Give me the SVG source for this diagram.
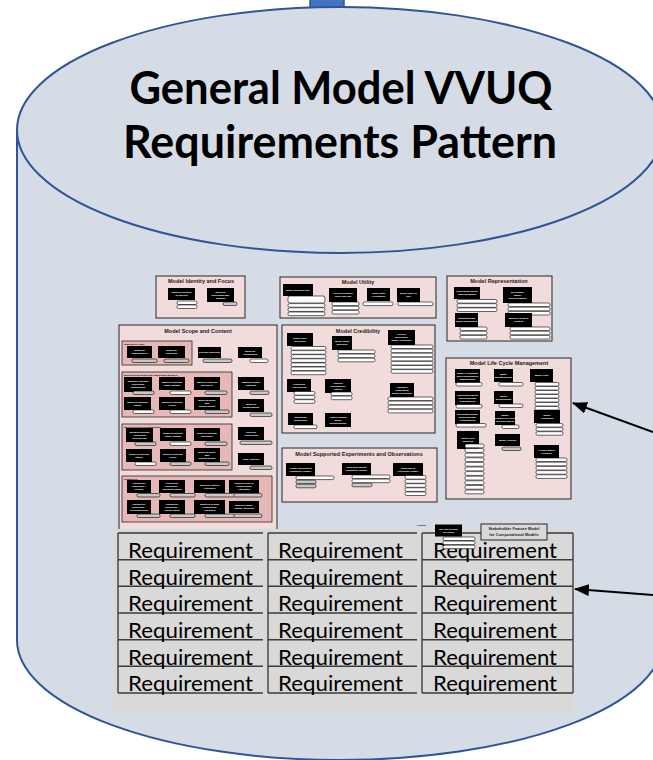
<svg xmlns="http://www.w3.org/2000/svg" width="653" height="760" viewBox="0 0 653 760">
<defs>
<style>
.cyl{fill:#D6DCE5;stroke:#2F5597;stroke-width:2}
.pn{fill:#F2DCDB;stroke:#262626;stroke-width:1}
.sp{fill:#E6B9B8;stroke:#262626;stroke-width:0.8}
.bb{fill:#000}
.pl{fill:#fff;stroke:#000;stroke-width:0.6}
.pg{fill:#C8C8C8;stroke:#000;stroke-width:0.6}
.pt{font-family:"Liberation Sans",Arial,sans-serif;font-weight:bold;font-size:5.5px;text-anchor:middle;fill:#1a1a1a}
.bt{font-family:"Liberation Sans",Arial,sans-serif;font-weight:bold;font-size:2.5px;text-anchor:middle;fill:#fff}
.st{font-family:"Liberation Sans",Arial,sans-serif;font-weight:bold;font-size:2.4px;fill:#000}
.tl{font-family:Lato,"Liberation Sans",sans-serif;font-weight:bold;font-size:45px;text-anchor:middle;fill:#000}
.rq{font-family:Lato,"Liberation Sans",sans-serif;font-size:21px;fill:#000}
.tb{fill:none;stroke:#000;stroke-width:1}
.tr{fill:none;stroke:#3a3a3a;stroke-width:1.5}
.ar{fill:none;stroke:#000;stroke-width:2}
.lg{font-family:"Liberation Sans",Arial,sans-serif;font-weight:bold;font-size:4px;text-anchor:middle;fill:#222}
</style>
<marker id="ah" viewBox="0 0 15 12" refX="14" refY="6" markerWidth="15" markerHeight="12" markerUnits="userSpaceOnUse" orient="auto">
<path d="M0,0 L15,6 L0,12 Z" fill="#000"/>
</marker>
</defs>
<rect x="0" y="0" width="653" height="760" fill="#fff"/>

<g id="cylinder">
<rect x="310" y="-2" width="34" height="14" fill="#4472C4" stroke="#2F5597" stroke-width="1.5"/>
<path class="cyl" d="M17,130 L17,640 A323,120 0 0 0 663,640 L663,130 Z"/>
<ellipse class="cyl" cx="340" cy="130" rx="323" ry="123"/>
<text class="tl" x="341" y="104" textLength="423" lengthAdjust="spacingAndGlyphs">General Model VVUQ</text>
<text class="tl" x="340" y="158" textLength="434" lengthAdjust="spacingAndGlyphs">Requirements Pattern</text>
</g>

<g id="identity">
<rect class="pn" x="156" y="276" width="89" height="42"/>
<text class="pt" x="201" y="283">Model Identity and Focus</text>
<rect class="bb" x="168" y="288" width="27" height="12"/>
<text class="bt" x="181.5" y="293.4">Modeled System<tspan x="181.5" dy="3">of Interest</tspan></text>
<rect class="pl" x="177" y="301" width="20" height="3.5" rx="1.5"/>
<rect class="pl" x="177" y="305" width="20" height="3.5" rx="1.5"/>
<rect class="bb" x="207" y="288" width="27" height="14"/>
<text class="bt" x="220.5" y="292.9">Modeled<tspan x="220.5" dy="3">Environmental</tspan><tspan x="220.5" dy="3">Domain</tspan></text>
<rect class="pg" x="223" y="302" width="14" height="3.5" rx="1.5"/>
</g>

<g id="utility">
<rect class="pn" x="280" y="277" width="156" height="41"/>
<text class="pt" x="358" y="283.5">Model Utility</text>
<rect class="bb" x="283" y="284" width="30" height="12"/>
<text class="bt" x="298" y="290.9">Model Intended Use</text>
<rect class="pl" x="288" y="296" width="37" height="7" rx="2"/>
<rect class="pl" x="288" y="303.6" width="37" height="3.6" rx="1.5"/>
<rect class="pl" x="288" y="307.8" width="37" height="3.6" rx="1.5"/>
<rect class="pl" x="288" y="312" width="37" height="3.6" rx="1.5"/>
<rect class="bb" x="329" y="288" width="28" height="14"/>
<text class="bt" x="343" y="294.4">Perceived Model<tspan x="343" dy="3">Value and Use</tspan></text>
<rect class="pl" x="332" y="302" width="27" height="3.6" rx="1.5"/>
<rect class="pl" x="332" y="306.2" width="27" height="3.6" rx="1.5"/>
<rect class="pl" x="332" y="310.4" width="27" height="3.6" rx="1.5"/>
<rect class="bb" x="367" y="288" width="23" height="13"/>
<text class="bt" x="378.5" y="293.9">Third Party<tspan x="378.5" dy="3">Acceptance</tspan></text>
<rect class="pl" x="363" y="302" width="30" height="3.6" rx="1.5"/>
<rect class="bb" x="397" y="288" width="23" height="14"/>
<text class="bt" x="408.5" y="294.4">Model Ease of<tspan x="408.5" dy="3">Use</tspan></text>
<rect class="pl" x="398" y="302" width="35" height="3.6" rx="1.5"/>
</g>

<g id="representation">
<rect class="pn" x="447" y="276" width="105" height="65"/>
<text class="pt" x="499" y="283">Model Representation</text>
<rect class="bb" x="454" y="287" width="26" height="12"/>
<text class="bt" x="467" y="292.4">Conceptual Model<tspan x="467" dy="3">Representation</tspan></text>
<rect class="pl" x="457" y="299.5" width="40" height="3.6" rx="1.5"/>
<rect class="pl" x="457" y="303.7" width="40" height="3.6" rx="1.5"/>
<rect class="pl" x="457" y="307.9" width="40" height="3.6" rx="1.5"/>
<rect class="bb" x="503" y="287" width="29" height="16"/>
<text class="bt" x="517.5" y="292.9">Executable<tspan x="517.5" dy="3">Model</tspan><tspan x="517.5" dy="3">Representation</tspan></text>
<rect class="pl" x="508" y="303" width="42" height="3.6" rx="1.5"/>
<rect class="pl" x="508" y="307.2" width="42" height="3.6" rx="1.5"/>
<rect class="pl" x="508" y="311.4" width="42" height="3.6" rx="1.5"/>
<rect class="bb" x="455" y="313" width="23" height="14"/>
<text class="bt" x="466.5" y="319.4">Computational<tspan x="466.5" dy="3">Model Ensembles</tspan></text>
<rect class="pl" x="460" y="327" width="27" height="3.6" rx="1.5"/>
<rect class="pl" x="460" y="331.2" width="27" height="3.6" rx="1.5"/>
<rect class="pl" x="460" y="335.4" width="27" height="3.6" rx="1.5"/>
<rect class="bb" x="505" y="313" width="27" height="14"/>
<text class="bt" x="518.5" y="319.4">Modeled System<tspan x="518.5" dy="3">Context</tspan></text>
<rect class="pl" x="510" y="327" width="40" height="3.6" rx="1.5"/>
<rect class="pl" x="510" y="331.2" width="40" height="3.6" rx="1.5"/>
<rect class="pl" x="510" y="335.4" width="40" height="3.6" rx="1.5"/>
</g>

<g id="scope">
<rect class="pn" x="119" y="325" width="158" height="206"/>
<text class="pt" x="198" y="333">Model Scope and Content</text>
<rect class="sp" x="122" y="341" width="70" height="24"/>
<text class="st" x="124" y="344.5">Stakeholder Value</text>
<rect class="bb" x="127" y="346" width="25" height="12"/>
<text class="bt" x="139.5" y="351.4">Modeled<tspan x="139.5" dy="3">Stakeholders</tspan></text>
<rect class="pg" x="132" y="359" width="25" height="3.5" rx="1.5"/>
<rect class="bb" x="158" y="346" width="27" height="12"/>
<text class="bt" x="171.5" y="351.4">Modeled<tspan x="171.5" dy="3">Concerns</tspan></text>
<rect class="pg" x="164" y="359" width="25" height="3.5" rx="1.5"/>
<rect class="bb" x="198" y="347" width="23" height="11"/>
<text class="bt" x="209.5" y="353.4">Driving Concerns</text>
<rect class="pg" x="203" y="359" width="29" height="3.5" rx="1.5"/>
<rect class="bb" x="238" y="347" width="24" height="11"/>
<text class="bt" x="250" y="351.9">Modeled<tspan x="250" dy="3">Phenomena</tspan></text>
<rect class="pl" x="250" y="359" width="18" height="3.5" rx="1.5"/>

<rect class="sp" x="122" y="372" width="110" height="45"/>
<text class="st" x="124" y="375.5">Modeled System External (Black Box) Behavior</text>
<rect class="bb" x="124" y="377" width="28" height="15"/>
<text class="bt" x="138" y="382.4">Modeled External<tspan x="138" dy="3">Functional</tspan><tspan x="138" dy="3">Interactions</tspan></text>
<rect class="pg" x="133" y="391" width="21" height="3.5" rx="1.5"/>
<rect class="bb" x="159" y="377" width="26" height="13"/>
<text class="bt" x="172" y="382.9">Modeled External<tspan x="172" dy="3">Input Outputs</tspan></text>
<rect class="pl" x="170" y="391" width="21" height="3.5" rx="1.5"/>
<rect class="bb" x="194" y="377" width="26" height="13"/>
<text class="bt" x="207" y="382.9">Modeled External<tspan x="207" dy="3">Interfaces</tspan></text>
<rect class="pg" x="205" y="391" width="22" height="3.5" rx="1.5"/>
<rect class="bb" x="124" y="397" width="27" height="13"/>
<text class="bt" x="137.5" y="402.9">Modeled External<tspan x="137.5" dy="3">States</tspan></text>
<rect class="pl" x="133" y="410" width="21" height="3.5" rx="1.5"/>
<rect class="bb" x="159" y="397" width="26" height="13"/>
<text class="bt" x="172" y="402.9">Modeled External<tspan x="172" dy="3">Actors</tspan></text>
<rect class="pl" x="170" y="410" width="21" height="3.5" rx="1.5"/>
<rect class="bb" x="194" y="397" width="26" height="13"/>
<text class="bt" x="207" y="401.4">Modeled Black<tspan x="207" dy="3">Box</tspan><tspan x="207" dy="3">Requirements</tspan></text>
<rect class="pg" x="205" y="410" width="24" height="3.5" rx="1.5"/>
<rect class="bb" x="238" y="377" width="26" height="13"/>
<text class="bt" x="251" y="382.9">Managed Model<tspan x="251" dy="3">Datasets</tspan></text>
<rect class="pg" x="250" y="391" width="19" height="3.5" rx="1.5"/>
<rect class="bb" x="238" y="399" width="26" height="13"/>
<text class="bt" x="251" y="404.9">Modeled<tspan x="251" dy="3">Relationships</tspan></text>
<rect class="pg" x="250" y="413" width="22" height="3.5" rx="1.5"/>

<rect class="sp" x="122" y="424" width="110" height="46"/>
<text class="st" x="124" y="427.5">Modeled System Decomposition</text>
<rect class="bb" x="126" y="428" width="27" height="14"/>
<text class="bt" x="139.5" y="432.9">Modeled Internal<tspan x="139.5" dy="3">Functional</tspan><tspan x="139.5" dy="3">Interactions</tspan></text>
<rect class="pg" x="135" y="442" width="21" height="3.5" rx="1.5"/>
<rect class="bb" x="160" y="428" width="26" height="13"/>
<text class="bt" x="173" y="433.9">Modeled Internal<tspan x="173" dy="3">Input Outputs</tspan></text>
<rect class="pl" x="170" y="442" width="21" height="3.5" rx="1.5"/>
<rect class="bb" x="194" y="428" width="26" height="13"/>
<text class="bt" x="207" y="433.9">Modeled Internal<tspan x="207" dy="3">Interfaces</tspan></text>
<rect class="pg" x="205" y="442" width="22" height="3.5" rx="1.5"/>
<rect class="bb" x="126" y="449" width="26" height="13"/>
<text class="bt" x="139" y="454.9">Modeled Internal<tspan x="139" dy="3">States</tspan></text>
<rect class="pl" x="135" y="462" width="21" height="3.5" rx="1.5"/>
<rect class="bb" x="160" y="449" width="26" height="13"/>
<text class="bt" x="173" y="454.9">Modeled Internal<tspan x="173" dy="3">Roles</tspan></text>
<rect class="pg" x="170" y="462" width="21" height="3.5" rx="1.5"/>
<rect class="bb" x="194" y="448" width="26" height="14"/>
<text class="bt" x="207" y="452.9">Modeled White<tspan x="207" dy="3">Box</tspan><tspan x="207" dy="3">Requirements</tspan></text>
<rect class="pg" x="205" y="462" width="24" height="3.5" rx="1.5"/>
<rect class="bb" x="238" y="427" width="26" height="13"/>
<text class="bt" x="251" y="432.9">Physical<tspan x="251" dy="3">Architecture</tspan></text>
<rect class="pg" x="240" y="441" width="32" height="3.5" rx="1.5"/>
<rect class="bb" x="238" y="453" width="26" height="12"/>
<text class="bt" x="251" y="459.9">Risk Analysis</text>
<rect class="pg" x="250" y="466" width="22" height="3.5" rx="1.5"/>

<rect class="sp" x="122" y="476" width="150" height="46"/>
<text class="st" x="124" y="479.5">Parametrics</text>
<rect class="bb" x="127" y="480" width="24" height="13"/>
<text class="bt" x="139" y="484.4">Parametric<tspan x="139" dy="3">Couplings --</tspan><tspan x="139" dy="3">Fitness</tspan></text>
<rect class="pg" x="137" y="493.5" width="23" height="3.5" rx="1.5"/>
<rect class="bb" x="159" y="480" width="26" height="13"/>
<text class="bt" x="172" y="484.4">Parametric<tspan x="172" dy="3">Couplings --</tspan><tspan x="172" dy="3">Characterization</tspan></text>
<rect class="pg" x="170" y="493.5" width="25" height="3.5" rx="1.5"/>
<rect class="bb" x="194" y="480" width="31" height="13"/>
<text class="bt" x="209.5" y="485.9">Modeled Fitness<tspan x="209.5" dy="3">Attributes</tspan></text>
<rect class="pg" x="205" y="493.5" width="30" height="3.5" rx="1.5"/>
<rect class="bb" x="229" y="480" width="30" height="13"/>
<text class="bt" x="244" y="484.4">Modeled Role &amp;<tspan x="244" dy="3">Requirement</tspan><tspan x="244" dy="3">Attributes</tspan></text>
<rect class="pg" x="234" y="493.5" width="28" height="3.5" rx="1.5"/>
<rect class="bb" x="127" y="500" width="24" height="14"/>
<text class="bt" x="139" y="504.9">Parametric<tspan x="139" dy="3">Couplings --</tspan><tspan x="139" dy="3">Decomposition</tspan></text>
<rect class="pg" x="137" y="514" width="23" height="3.5" rx="1.5"/>
<rect class="bb" x="159" y="500" width="26" height="14"/>
<text class="bt" x="172" y="504.9">Parametric<tspan x="172" dy="3">Couplings --</tspan><tspan x="172" dy="3">Input/Output</tspan></text>
<rect class="pg" x="170" y="514" width="25" height="3.5" rx="1.5"/>
<rect class="bb" x="194" y="500" width="31" height="14"/>
<text class="bt" x="209.5" y="504.9">Modeled Design<tspan x="209.5" dy="3">Component</tspan><tspan x="209.5" dy="3">Attributes</tspan></text>
<rect class="pg" x="205" y="514" width="30" height="3.5" rx="1.5"/>
<rect class="bb" x="229" y="501" width="30" height="12"/>
<text class="bt" x="244" y="506.4">Modeled Input-<tspan x="244" dy="3">Output Attributes</tspan></text>
<rect class="pg" x="234" y="514" width="28" height="3.5" rx="1.5"/>
</g>

<g id="credibility">
<rect class="pn" x="282" y="325" width="153" height="108"/>
<text class="pt" x="358" y="332.5">Model Credibility</text>
<rect class="bb" x="287" y="333" width="26" height="13"/>
<text class="bt" x="300" y="338.9">Model SRG<tspan x="300" dy="3">Envelope</tspan></text>
<rect class="pl" x="291" y="346.5" width="35" height="3.6" rx="1.5"/>
<rect class="pl" x="291" y="350.6" width="35" height="3.6" rx="1.5"/>
<rect class="pl" x="291" y="354.7" width="35" height="3.6" rx="1.5"/>
<rect class="pl" x="291" y="358.8" width="35" height="3.6" rx="1.5"/>
<rect class="pl" x="291" y="362.9" width="35" height="3.6" rx="1.5"/>
<rect class="pl" x="291" y="367" width="35" height="3.6" rx="1.5"/>
<rect class="pl" x="291" y="371.1" width="35" height="3.6" rx="1.5"/>
<rect class="bb" x="332" y="336" width="20" height="14"/>
<text class="bt" x="342" y="342.4">Model Input<tspan x="342" dy="3">Envelope</tspan></text>
<rect class="pl" x="338" y="350" width="37" height="3.6" rx="1.5"/>
<rect class="pl" x="338" y="354.1" width="37" height="3.6" rx="1.5"/>
<rect class="pl" x="338" y="358.2" width="37" height="3.6" rx="1.5"/>
<rect class="bb" x="388" y="330" width="27" height="15"/>
<text class="bt" x="401.5" y="335.4">Verified<tspan x="401.5" dy="3">Executable</tspan><tspan x="401.5" dy="3">Model Credibility</tspan></text>
<rect class="pl" x="391" y="345" width="42" height="3.6" rx="1.5"/>
<rect class="pl" x="391" y="349.1" width="42" height="3.6" rx="1.5"/>
<rect class="pl" x="391" y="353.2" width="42" height="3.6" rx="1.5"/>
<rect class="pl" x="391" y="357.3" width="42" height="3.6" rx="1.5"/>
<rect class="pl" x="391" y="361.4" width="42" height="3.6" rx="1.5"/>
<rect class="pl" x="391" y="365.5" width="42" height="3.6" rx="1.5"/>
<rect class="pl" x="391" y="369.6" width="42" height="3.6" rx="1.5"/>
<rect class="bb" x="287" y="379" width="24" height="13"/>
<text class="bt" x="299" y="384.9">Credibility<tspan x="299" dy="3">Assessment</tspan></text>
<rect class="pl" x="294" y="391.5" width="21" height="3.6" rx="1.5"/>
<rect class="pl" x="294" y="395.6" width="21" height="3.6" rx="1.5"/>
<rect class="pl" x="294" y="399.7" width="21" height="3.6" rx="1.5"/>
<rect class="bb" x="325" y="379" width="26" height="14"/>
<text class="bt" x="338" y="383.9">Trusted<tspan x="338" dy="3">Configurable</tspan><tspan x="338" dy="3">Pattern</tspan></text>
<rect class="pl" x="331" y="392" width="21" height="3.6" rx="1.5"/>
<rect class="pl" x="331" y="396.1" width="21" height="3.6" rx="1.5"/>
<rect class="bb" x="390" y="383" width="24" height="14"/>
<text class="bt" x="402" y="387.9">Validated<tspan x="402" dy="3">Conceptual</tspan><tspan x="402" dy="3">Model Credibility</tspan></text>
<rect class="pl" x="388" y="397" width="45" height="3.6" rx="1.5"/>
<rect class="pl" x="388" y="401.1" width="45" height="3.6" rx="1.5"/>
<rect class="pl" x="388" y="405.2" width="45" height="3.6" rx="1.5"/>
<rect class="pl" x="388" y="409.3" width="45" height="3.6" rx="1.5"/>
<rect class="bb" x="288" y="413" width="25" height="12"/>
<text class="bt" x="300.5" y="418.4">Standards<tspan x="300.5" dy="3">Compliance</tspan></text>
<rect class="pl" x="294" y="425" width="23" height="3.6" rx="1.5"/>
<rect class="bb" x="325" y="413" width="26" height="14"/>
<text class="bt" x="338" y="417.9">Pattern-Based<tspan x="338" dy="3">Model</tspan><tspan x="338" dy="3">Requirements</tspan></text>
</g>

<g id="experiments">
<rect class="pn" x="282" y="448" width="155" height="54"/>
<text class="pt" x="359" y="455.5">Model Supported Experiments and Observations</text>
<rect class="bb" x="286" y="463" width="29" height="13"/>
<text class="bt" x="300.5" y="468.9">Virtual Experiment<tspan x="300.5" dy="3">Parameter Feature</tspan></text>
<rect class="pl" x="296" y="476" width="38" height="3.6" rx="1.5"/>
<rect class="pg" x="296" y="480.1" width="20" height="3.6" rx="1.5"/>
<rect class="pg" x="296" y="484.2" width="20" height="3.6" rx="1.5"/>
<rect class="bb" x="342" y="463" width="29" height="12"/>
<text class="bt" x="356.5" y="468.4">Real Experiment<tspan x="356.5" dy="3">Parameter Feature</tspan></text>
<rect class="pl" x="352" y="475" width="38" height="3.6" rx="1.5"/>
<rect class="pl" x="352" y="479.1" width="38" height="3.6" rx="1.5"/>
<rect class="pg" x="352" y="483.2" width="20" height="3.6" rx="1.5"/>
<rect class="bb" x="393" y="463" width="30" height="13"/>
<text class="bt" x="408" y="468.9">Experiment<tspan x="408" dy="3">Overview Feature</tspan></text>
<rect class="pl" x="405" y="475.5" width="21" height="3.6" rx="1.5"/>
<rect class="pl" x="405" y="479.6" width="21" height="3.6" rx="1.5"/>
<rect class="pl" x="405" y="483.7" width="21" height="3.6" rx="1.5"/>
<rect class="pl" x="405" y="487.8" width="21" height="3.6" rx="1.5"/>
<rect class="pl" x="405" y="491.9" width="21" height="3.6" rx="1.5"/>
</g>

<g id="lifecycle">
<rect class="pn" x="446" y="358" width="125" height="141"/>
<text class="pt" x="509" y="365">Model Life Cycle Management</text>
<rect class="bb" x="455" y="369" width="25" height="14"/>
<text class="bt" x="467.5" y="373.9">Model Versioning<tspan x="467.5" dy="3">and Configuration</tspan><tspan x="467.5" dy="3">Management</tspan></text>
<rect class="pl" x="456" y="382.5" width="26" height="3.5" rx="1.5"/>
<rect class="bb" x="494" y="369" width="19" height="13"/>
<text class="bt" x="503.5" y="374.9">Model<tspan x="503.5" dy="3">Maintainability</tspan></text>
<rect class="pl" x="499" y="382.5" width="24" height="3.5" rx="1.5"/>
<rect class="bb" x="530" y="369" width="23" height="13"/>
<text class="bt" x="541.5" y="376.4">Model Cost</text>
<rect class="pl" x="535" y="382.5" width="24" height="3.5" rx="1.5"/>
<rect class="pl" x="535" y="386.5" width="24" height="3.5" rx="1.5"/>
<rect class="pl" x="535" y="390.5" width="24" height="3.5" rx="1.5"/>
<rect class="pl" x="535" y="394.5" width="24" height="3.5" rx="1.5"/>
<rect class="pl" x="535" y="398.5" width="24" height="3.5" rx="1.5"/>
<rect class="pl" x="535" y="402.5" width="24" height="3.5" rx="1.5"/>
<rect class="pl" x="535" y="406.5" width="24" height="3.5" rx="1.5"/>
<rect class="bb" x="455" y="391" width="25" height="14"/>
<text class="bt" x="467.5" y="395.9">Conceptual Model<tspan x="467.5" dy="3">Environmental</tspan><tspan x="467.5" dy="3">Compatibility</tspan></text>
<rect class="pl" x="456" y="404.5" width="26" height="3.5" rx="1.5"/>
<rect class="bb" x="494" y="391" width="19" height="13"/>
<text class="bt" x="503.5" y="396.9">Model<tspan x="503.5" dy="3">Deployability</tspan></text>
<rect class="pl" x="499" y="404" width="24" height="3.5" rx="1.5"/>
<rect class="bb" x="455" y="410" width="25" height="14"/>
<text class="bt" x="467.5" y="414.9">Executable Model<tspan x="467.5" dy="3">Environmental</tspan><tspan x="467.5" dy="3">Compatibility</tspan></text>
<rect class="pl" x="456" y="423.5" width="30" height="3.5" rx="1.5"/>
<rect class="bb" x="495" y="411" width="20" height="14"/>
<text class="bt" x="505" y="415.9">Model<tspan x="505" dy="3">Design Life Cycle</tspan><tspan x="505" dy="3">and Retirement</tspan></text>
<rect class="pl" x="502" y="425" width="17" height="3.5" rx="1.5"/>
<rect class="bb" x="534" y="410" width="26" height="13"/>
<text class="bt" x="547" y="415.9">Model<tspan x="547" dy="3">Availability</tspan></text>
<rect class="pl" x="536" y="423.5" width="27" height="3.5" rx="1.5"/>
<rect class="pl" x="536" y="427.6" width="27" height="3.5" rx="1.5"/>
<rect class="pl" x="536" y="431.7" width="27" height="3.5" rx="1.5"/>
<rect class="bb" x="457" y="431" width="22" height="18"/>
<text class="bt" x="468" y="439.4">Subtle Core<tspan x="468" dy="3">Monitors</tspan></text>
<rect class="pl" x="465" y="444" width="19" height="3.8" rx="1.5"/>
<rect class="pl" x="465" y="448.6" width="19" height="3.8" rx="1.5"/>
<rect class="pl" x="465" y="453.2" width="19" height="3.8" rx="1.5"/>
<rect class="pl" x="465" y="457.8" width="19" height="3.8" rx="1.5"/>
<rect class="pl" x="465" y="462.4" width="19" height="3.8" rx="1.5"/>
<rect class="pl" x="465" y="467" width="19" height="3.8" rx="1.5"/>
<rect class="pl" x="465" y="471.6" width="19" height="3.8" rx="1.5"/>
<rect class="pl" x="465" y="476.2" width="19" height="3.8" rx="1.5"/>
<rect class="pl" x="465" y="480.8" width="19" height="3.8" rx="1.5"/>
<rect class="pl" x="465" y="485.4" width="19" height="3.8" rx="1.5"/>
<rect class="pl" x="465" y="490" width="19" height="3.8" rx="1.5"/>
<rect class="bb" x="495" y="434" width="25" height="12"/>
<text class="bt" x="507.5" y="440.9">Model Version</text>
<rect class="pg" x="502" y="447" width="19" height="3.5" rx="1.5"/>
<rect class="bb" x="534" y="445" width="25" height="13"/>
<text class="bt" x="546.5" y="450.9">VVUQ Pattern<tspan x="546.5" dy="3">Learning</tspan></text>
<rect class="pl" x="536" y="458" width="31" height="3.6" rx="1.5"/>
<rect class="pl" x="536" y="462.2" width="31" height="3.6" rx="1.5"/>
<rect class="pl" x="536" y="466.4" width="31" height="3.6" rx="1.5"/>
<rect class="pl" x="536" y="470.6" width="31" height="3.6" rx="1.5"/>
<rect class="pl" x="536" y="474.8" width="31" height="3.6" rx="1.5"/>
</g>

<g id="requirements-table">
<rect x="113" y="529" width="460" height="184" fill="#D9D9D9"/>
<path class="tb" d="M118,533 V693 M268,533 V693 M422,533 V693 M573,533 V693"/>
<path class="tr" d="M118,533 H263 M268,533 H417 M422,533 H573
M118,559.7 H263 M268,559.7 H417 M422,559.7 H573
M118,586.3 H263 M268,586.3 H417 M422,586.3 H573
M118,613 H263 M268,613 H417 M422,613 H573
M118,639.7 H263 M268,639.7 H417 M422,639.7 H573
M118,666.3 H263 M268,666.3 H417 M422,666.3 H573
M118,693 H263 M268,693 H417 M422,693 H573"/>
<g class="rq">
<text x="128" y="558" textLength="125" lengthAdjust="spacingAndGlyphs">Requirement</text>
<text x="278" y="558" textLength="125" lengthAdjust="spacingAndGlyphs">Requirement</text>
<text x="433" y="558" textLength="124" lengthAdjust="spacingAndGlyphs">Requirement</text>
<text x="128" y="584.6" textLength="125" lengthAdjust="spacingAndGlyphs">Requirement</text>
<text x="278" y="584.6" textLength="125" lengthAdjust="spacingAndGlyphs">Requirement</text>
<text x="433" y="584.6" textLength="124" lengthAdjust="spacingAndGlyphs">Requirement</text>
<text x="128" y="611.3" textLength="125" lengthAdjust="spacingAndGlyphs">Requirement</text>
<text x="278" y="611.3" textLength="125" lengthAdjust="spacingAndGlyphs">Requirement</text>
<text x="433" y="611.3" textLength="124" lengthAdjust="spacingAndGlyphs">Requirement</text>
<text x="128" y="638" textLength="125" lengthAdjust="spacingAndGlyphs">Requirement</text>
<text x="278" y="638" textLength="125" lengthAdjust="spacingAndGlyphs">Requirement</text>
<text x="433" y="638" textLength="124" lengthAdjust="spacingAndGlyphs">Requirement</text>
<text x="128" y="664.6" textLength="125" lengthAdjust="spacingAndGlyphs">Requirement</text>
<text x="278" y="664.6" textLength="125" lengthAdjust="spacingAndGlyphs">Requirement</text>
<text x="433" y="664.6" textLength="124" lengthAdjust="spacingAndGlyphs">Requirement</text>
<text x="128" y="691.3" textLength="125" lengthAdjust="spacingAndGlyphs">Requirement</text>
<text x="278" y="691.3" textLength="125" lengthAdjust="spacingAndGlyphs">Requirement</text>
<text x="433" y="691.3" textLength="124" lengthAdjust="spacingAndGlyphs">Requirement</text>
</g>
</g>

<g id="legend">
<text class="st" x="417" y="526">Legend:</text>
<rect class="bb" x="435" y="524.5" width="27" height="12"/>
<text class="bt" x="448.5" y="529.9">STAKEHOLDER<tspan x="448.5" dy="3">FEATURE</tspan></text>
<rect class="pl" x="443" y="537" width="32" height="3.5" rx="1.5"/>
<rect class="pl" x="443" y="541.1" width="32" height="3.5" rx="1.5"/>
<rect class="pl" x="443" y="545.2" width="32" height="3.5" rx="1.5"/>
<rect x="481" y="524" width="66" height="16" fill="#D9D9D9" stroke="#262626" stroke-width="1"/>
<text class="lg" x="514" y="530">Stakeholder Feature Model</text>
<text class="lg" x="514" y="535.6">for Computational Models</text>
</g>

<g id="connectors">
<line class="ar" x1="653" y1="432" x2="573" y2="403" marker-end="url(#ah)"/>
<line class="ar" x1="653" y1="595" x2="575" y2="589" marker-end="url(#ah)"/>
</g>
</svg>
